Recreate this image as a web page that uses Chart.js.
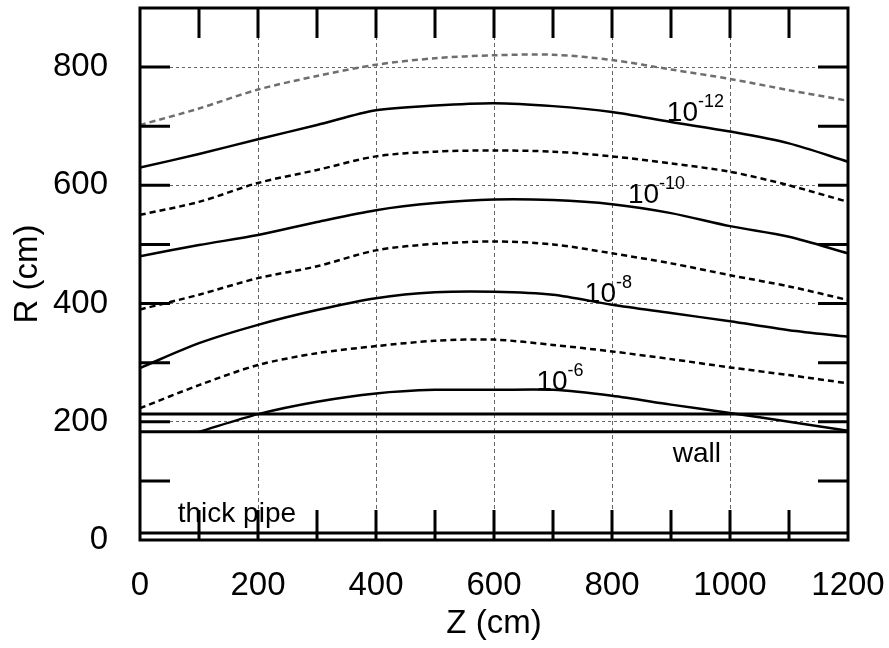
<!DOCTYPE html>
<html>
<head>
<meta charset="utf-8">
<title>R vs Z</title>
<script src="https://cdn.jsdelivr.net/npm/chart.js@4.4.1/dist/chart.umd.min.js"></script>
<style>
  html, body { margin: 0; padding: 0; background: #fff; }
</style>
</head>
<body>
<canvas id="chart" width="889" height="648"></canvas>
<script>
// Z positions (cm) where the curves were read
var zValues = [0, 100, 200, 300, 400, 500, 600, 700, 800, 900, 1000, 1100, 1200];

// R (cm) of each contour
var rGreyDashed = [702, 730, 762, 785, 804, 815, 820, 821, 812, 796, 780, 761, 743];
var r1e12 = [630, 653, 678, 702, 727, 735, 739, 734, 724, 707, 691, 671, 640];
var rDashA = [550, 572, 604, 626, 649, 657, 659, 657, 649, 637, 623, 600, 572];
var r1e10 = [480, 499, 516, 538, 558, 570, 576, 575, 568, 553, 531, 513, 485];
var rDashB = [390, 415, 443, 463, 490, 501, 505, 500, 485, 468, 448, 429, 406];
var r1e8 = [291, 333, 364, 389, 409, 419, 420, 415, 398, 384, 370, 355, 344];
var rDashC = [223, 262, 296, 316, 328, 337, 339, 330, 319, 306, 292, 279, 265];
var r1e6 = [null, 183, 213, 234, 248, 254, 254, 254, 244, 229, 215, 200, 185];

// horizontal structures
var flatZ = [0, 1200];
var wallOuterR = [213, 213];
var wallInnerR = [183, 183];
var pipeR = [12, 12];

// text labels (anchor in data units)
var labelBase = ['10', '10', '10', '10', 'wall', 'thick pipe'];
var labelSup = ['-12', '-10', '-8', '-6', '', ''];
var labelZ = [893, 827, 754, 672, 903, 64];
var labelR = [709, 570, 402, 253, 132, 31];

var FONT = "'Liberation Sans', Arial, Helvetica, sans-serif";
var tickStep = 100;
var tickLen = 30;

function pts(xs, ys) {
    return xs.map(function (x, i) { return { x: x, y: ys[i] }; });
}

function curve(data, color, dashed) {
    return {
        data: pts(zValues, data),
        borderColor: color,
        borderWidth: 2.5,
        borderDash: dashed ? [6, 4] : [],
        pointRadius: 0,
        tension: 0.3,
        fill: false
    };
}

function flat(data) {
    return {
        data: pts(flatZ, data),
        borderColor: '#000',
        borderWidth: 3,
        pointRadius: 0,
        fill: false
    };
}

// inward ticks, frame and curve labels
var framePlugin = {
    id: 'frame',
    afterDatasetsDraw: function (chart) {
        var ctx = chart.ctx;
        var a = chart.chartArea;
        var xs = chart.scales.x;
        var ys = chart.scales.y;
        var v, p;
        ctx.save();
        ctx.strokeStyle = '#000';
        ctx.lineWidth = 3;
        ctx.beginPath();
        for (v = xs.min + tickStep; v < xs.max; v += tickStep) {
            p = xs.getPixelForValue(v);
            ctx.moveTo(p, a.bottom);
            ctx.lineTo(p, a.bottom - tickLen);
            ctx.moveTo(p, a.top);
            ctx.lineTo(p, a.top + tickLen);
        }
        for (v = ys.min + tickStep; v < ys.max; v += tickStep) {
            p = ys.getPixelForValue(v);
            ctx.moveTo(a.left, p);
            ctx.lineTo(a.left + tickLen, p);
            ctx.moveTo(a.right, p);
            ctx.lineTo(a.right - tickLen, p);
        }
        ctx.stroke();
        ctx.strokeRect(a.left, a.top, a.right - a.left, a.bottom - a.top);

        ctx.fillStyle = '#000';
        ctx.textAlign = 'left';
        ctx.textBaseline = 'alphabetic';
        for (var i = 0; i < labelBase.length; i++) {
            var lx = xs.getPixelForValue(labelZ[i]);
            var ly = ys.getPixelForValue(labelR[i]);
            ctx.font = '28px ' + FONT;
            ctx.fillText(labelBase[i], lx, ly);
            if (labelSup[i]) {
                var w = ctx.measureText(labelBase[i]).width;
                ctx.font = '18px ' + FONT;
                ctx.fillText(labelSup[i], lx + w, ly - 14);
            }
        }
        ctx.restore();
    }
};

new Chart(document.getElementById('chart'), {
    type: 'line',
    data: {
        datasets: [
            curve(rGreyDashed, '#6e6e6e', true),
            curve(r1e12, '#000', false),
            curve(rDashA, '#000', true),
            curve(r1e10, '#000', false),
            curve(rDashB, '#000', true),
            curve(r1e8, '#000', false),
            curve(rDashC, '#000', true),
            curve(r1e6, '#000', false),
            flat(wallOuterR),
            flat(wallInnerR),
            flat(pipeR)
        ]
    },
    options: {
        responsive: false,
        animation: false,
        layout: { padding: { left: 0, right: 41, top: 8, bottom: 0 } },
        plugins: {
            legend: { display: false },
            tooltip: { enabled: false }
        },
        scales: {
            x: {
                type: 'linear',
                min: 0,
                max: 1200,
                ticks: {
                    stepSize: 200,
                    includeBounds: false,
                    maxRotation: 0,
                    autoSkip: false,
                    padding: 26,
                    color: '#000',
                    font: { family: FONT, size: 33 },
                    callback: function (v) { return String(v); }
                },
                grid: { color: '#666', lineWidth: 1, drawTicks: false },
                border: { display: false, dash: [4, 3] },
                title: {
                    display: true,
                    text: 'Z (cm)',
                    color: '#000',
                    font: { family: FONT, size: 33 },
                    padding: { top: 0, bottom: 4 }
                },
                afterFit: function (s) {
                    s.height = 108;
                    s.paddingLeft = 0;
                    s.paddingRight = 0;
                }
            },
            y: {
                type: 'linear',
                min: 0,
                max: 900,
                ticks: {
                    stepSize: 200,
                    includeBounds: false,
                    padding: 32,
                    color: '#000',
                    font: { family: FONT, size: 33 },
                    callback: function (v) { return String(v); }
                },
                grid: { color: '#666', lineWidth: 1, drawTicks: false },
                border: { display: false, dash: [3, 3] },
                title: {
                    display: true,
                    text: 'R (cm)',
                    color: '#000',
                    font: { family: FONT, size: 33 },
                    padding: { top: 8, bottom: 0 }
                },
                afterFit: function (s) {
                    s.width = 140;
                    s.paddingTop = 0;
                    s.paddingBottom = 0;
                }
            }
        }
    },
    plugins: [framePlugin]
});
</script>
</body>
</html>
